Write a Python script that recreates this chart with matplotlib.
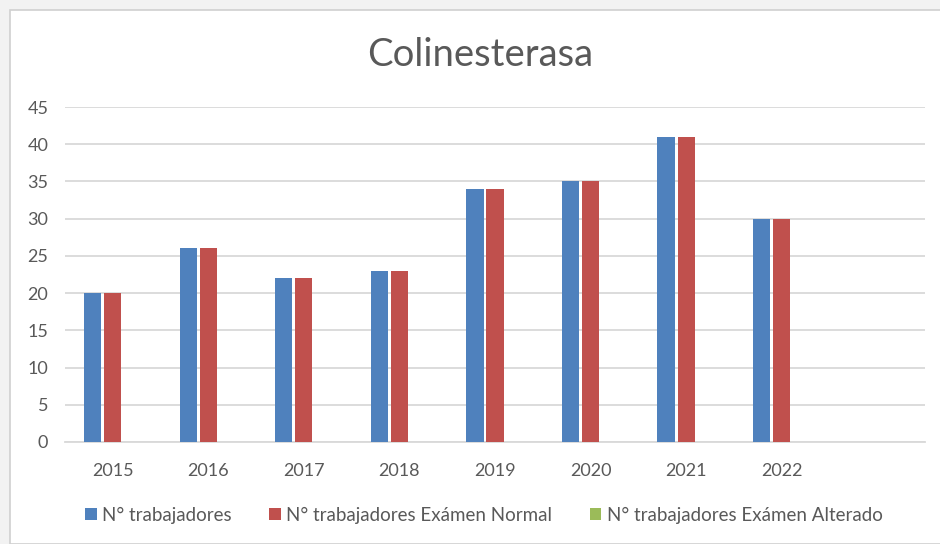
import matplotlib.pyplot as plt
import matplotlib.patches as mpatches
import numpy as np

plt.rcParams['font.family'] = ['Lato', 'DejaVu Sans']

years = ['2015', '2016', '2017', '2018', '2019', '2020', '2021', '2022', '']
trabajadores = [20, 26, 22, 23, 34, 35, 41, 30, 0]
examen_normal = [20, 26, 22, 23, 34, 35, 41, 30, 0]
examen_alterado = [0, 0, 0, 0, 0, 0, 0, 0, 0]
series_names = ['N° trabajadores', 'N° trabajadores Exámen Normal', 'N° trabajadores Exámen Alterado']
colors = ['#4F81BD', '#C0504D', '#9BBB59']

fig = plt.figure(figsize=(9.4, 5.44), dpi=100, facecolor='#F2F2F2')
# white chart area with thin border, kept behind the axes
fig.patches.append(mpatches.Rectangle((10 / 940, 0), 1, 1 - 10 / 544, transform=fig.transFigure,
                                      facecolor='white', edgecolor='#D0D0D0', linewidth=1.2, zorder=-5))

ax = fig.add_axes([65 / 940, 1 - 442 / 544, (925 - 65) / 940, (442 - 107) / 544])
ax.set_facecolor('white')

x = np.arange(len(years))
step = 0.21
width = 0.18
for i, (vals, name, c) in enumerate(zip([trabajadores, examen_normal, examen_alterado], series_names, colors)):
    ax.bar(x + (i - 1) * step, vals, width=width, color=c, label=name, zorder=3)

ax.set_xlim(-0.5, len(years) - 0.5)
ax.set_ylim(0, 45)
ax.set_yticks(range(0, 46, 5))
ax.set_xticks(x)
ax.set_xticklabels(years)
ax.grid(axis='y', color='#D9D9D9', linewidth=1.3, zorder=0)
for s in ['top', 'right', 'left']:
    ax.spines[s].set_visible(False)
ax.spines['bottom'].set_color('#D9D9D9')
ax.spines['bottom'].set_linewidth(1.3)
ax.tick_params(axis='both', length=0, colors='#595959', labelsize=13)
ax.tick_params(axis='x', pad=15)
ax.tick_params(axis='y', pad=12)

fig.text(480 / 940, 1 - 55 / 544, 'Colinesterasa', ha='center', va='center', fontsize=27.5, color='#595959')

leg = fig.legend(loc='center', bbox_to_anchor=(484 / 940, 1 - 515 / 544), ncol=3, frameon=False,
                 fontsize=13.5, handlelength=0.6, handleheight=0.6, handletextpad=0.3, columnspacing=2.0)
for t in leg.get_texts():
    t.set_color('#595959')

fig.savefig('out.png', dpi=100, facecolor=fig.get_facecolor())
